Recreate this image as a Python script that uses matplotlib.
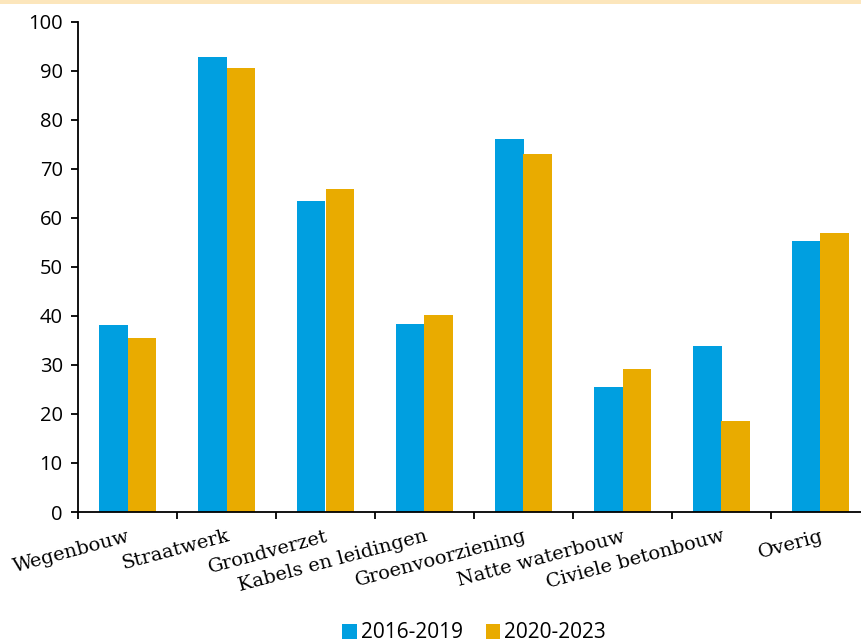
import numpy as np
import matplotlib
matplotlib.use("Agg")
import matplotlib.pyplot as plt
from matplotlib.patches import Rectangle

categories = ["Wegenbouw", "Straatwerk", "Grondverzet", "Kabels en leidingen",
              "Groenvoorziening", "Natte waterbouw", "Civiele betonbouw", "Overig"]
series_names = ["2016-2019", "2020-2023"]
values_2016_2019 = [38.2, 92.9, 63.5, 38.4, 76.1, 25.5, 33.9, 55.3]
values_2020_2023 = [35.6, 90.6, 65.9, 40.2, 73.1, 29.1, 18.6, 56.9]
y_ticks = list(range(0, 101, 10))

blue = "#009FE0"
gold = "#E9AB00"

W, H = 861, 644
fig = plt.figure(figsize=(W / 100, H / 100), dpi=100)

# thin coloured strip along the top edge
fig.patches.append(Rectangle((0, 1 - 4 / H), 1, 4 / H, transform=fig.transFigure,
                             facecolor="#FCE6BC", edgecolor="none"))

ax = fig.add_axes([78 / W, 1 - 512 / H, 792 / W, 490 / H])

x = np.arange(len(categories))
bw = 0.29
ax.bar(x - bw / 2, values_2016_2019, bw, color=blue, label=series_names[0])
ax.bar(x + bw / 2, values_2020_2023, bw, color=gold, label=series_names[1])

ax.set_xlim(-0.5, len(categories) - 0.5)
ax.set_ylim(0, 100)

for s in ("top", "right"):
    ax.spines[s].set_visible(False)
for s in ("left", "bottom"):
    ax.spines[s].set_linewidth(1.3)

ax.set_yticks(y_ticks)
ax.set_yticklabels([str(v) for v in y_ticks], fontsize=14.5, family=["Open Sans", "DejaVu Sans"])
ax.tick_params(axis="y", length=5, width=1.3, pad=6)

# category labels at the centres, tick marks on the group boundaries
ax.set_xticks(x)
ax.set_xticklabels(categories, rotation=15, ha="right", va="top", rotation_mode="anchor",
                   fontsize=14, family="DejaVu Serif")
ax.tick_params(axis="x", which="major", length=0, pad=11)
ax.set_xticks(np.arange(-0.5, len(categories), 1), minor=True)
ax.tick_params(axis="x", which="minor", length=5, width=1.3)

leg = fig.legend(loc="center", bbox_to_anchor=(474 / W, 1 - 633 / H), ncol=2, frameon=False,
                 prop={"family": "Open Sans", "size": 15}, handlelength=0.7, handleheight=0.7,
                 handletextpad=0.2, columnspacing=1.1)

fig.savefig("out.png", dpi=100)
